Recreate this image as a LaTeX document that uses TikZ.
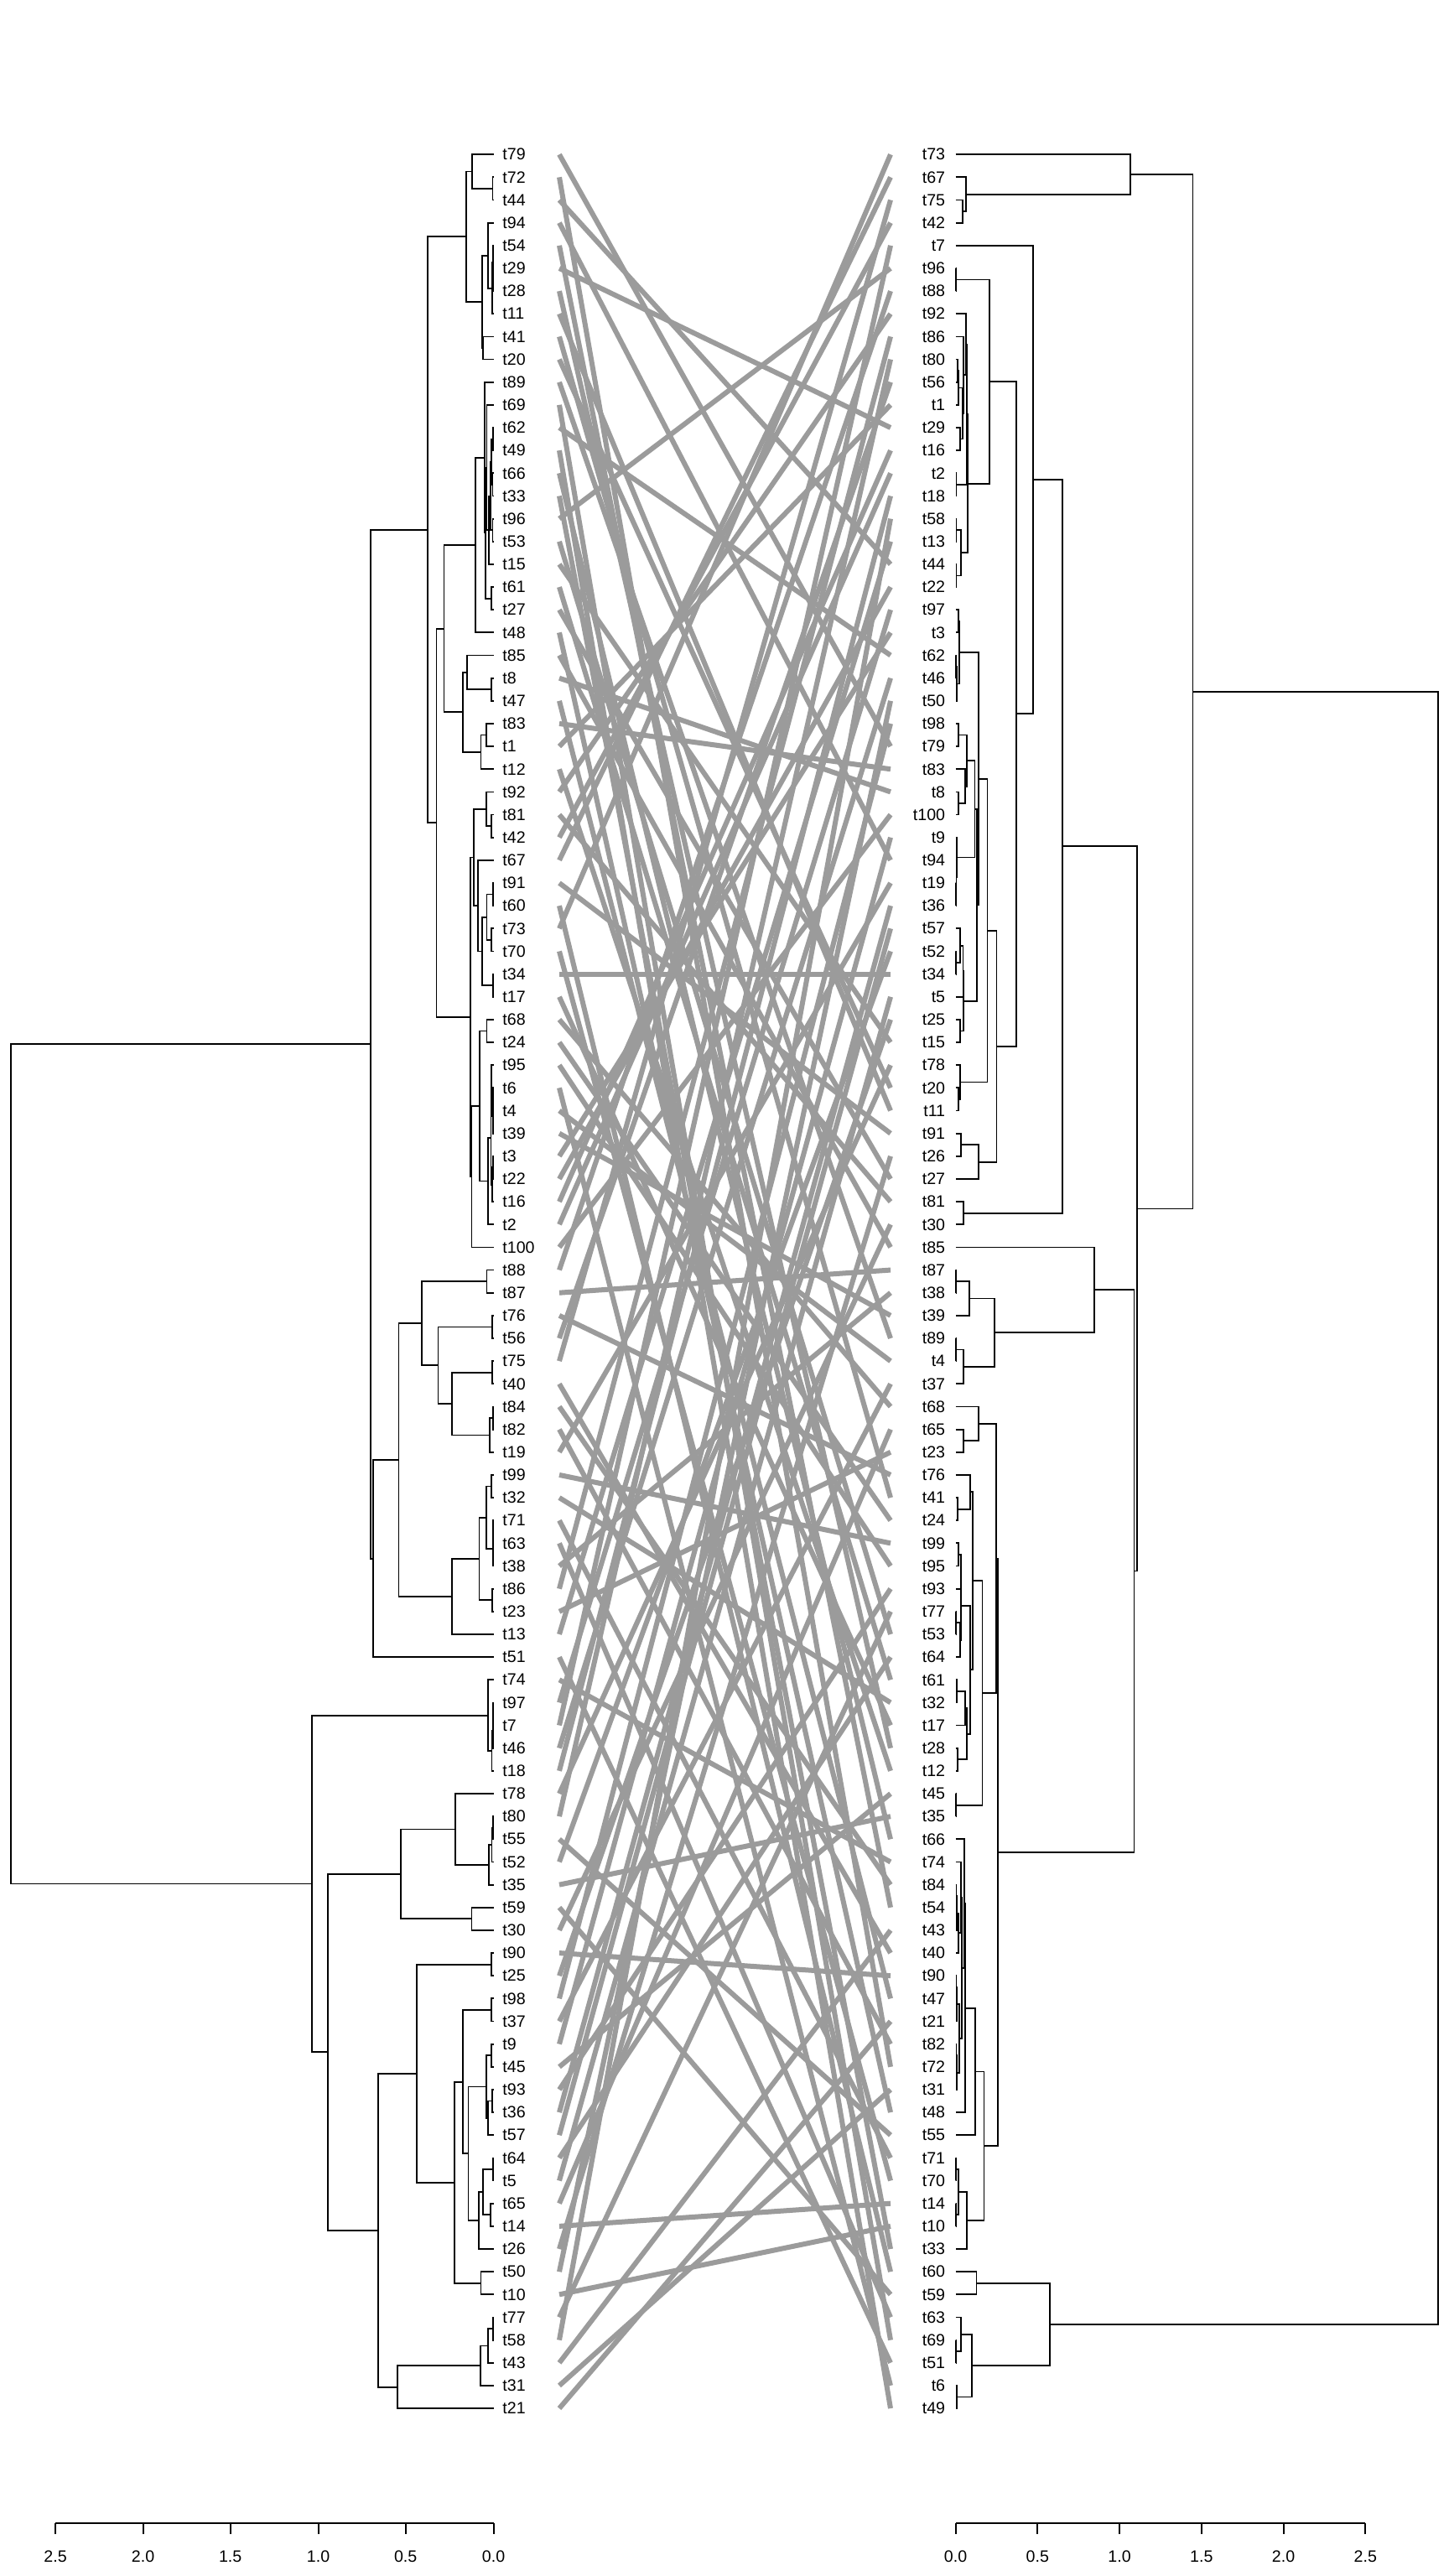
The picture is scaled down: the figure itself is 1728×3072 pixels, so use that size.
\documentclass[tikz,border=0pt]{standalone}
\usepackage{fontspec}
\setmainfont{Liberation Sans}
\usetikzlibrary{calc}
\definecolor{conncol}{RGB}{155,155,155}
\newcommand\mrg[4]{%
  \path let \p1=(#3), \p2=(#4) in coordinate (#1) at ({#2*0.5pt},{0.5*\y1+0.5*\y2});
  \draw[treeln] (#3) -| (#1) |- (#4);
}
\begin{document}
\begin{tikzpicture}[x=0.5pt,y=-0.5pt,
  treeln/.style={line width=0.9pt,line join=miter},
  conn/.style={draw=conncol,line width=3pt},
  lbl/.style={inner sep=0pt,font=\fontsize{9.8}{11}\selectfont},
  axln/.style={line width=0.9pt}]
\useasboundingbox (0,0) rectangle (1728,3072);
\fill[white] (0,0) rectangle (1728,3072);

% ---------- left leaves ----------
\foreach \n [count=\i] in {t79,t72,t44,t94,t54,t29,t28,t11,t41,t20,t89,t69,t62,t49,t66,t33,t96,t53,t15,t61,t27,t48,t85,t8,t47,t83,t1,t12,t92,t81,t42,t67,t91,t60,t73,t70,t34,t17,t68,t24,t95,t6,t4,t39,t3,t22,t16,t2,t100,t88,t87,t76,t56,t75,t40,t84,t82,t19,t99,t32,t71,t63,t38,t86,t23,t13,t51,t74,t97,t7,t46,t18,t78,t80,t55,t52,t35,t59,t30,t90,t25,t98,t37,t9,t45,t93,t36,t57,t64,t5,t65,t14,t26,t50,t10,t77,t58,t43,t31,t21}{
  \pgfmathsetmacro\yy{184.2+(\i-1)*27.15}
  \coordinate (L\i) at (588.6,\yy);
  \coordinate (lc-\n) at (667,\yy);
  \node[lbl,anchor=west] (ln-\n) at (599,\yy) {\n};
}
% ---------- right leaves ----------
\foreach \n [count=\i] in {t73,t67,t75,t42,t7,t96,t88,t92,t86,t80,t56,t1,t29,t16,t2,t18,t58,t13,t44,t22,t97,t3,t62,t46,t50,t98,t79,t83,t8,t100,t9,t94,t19,t36,t57,t52,t34,t5,t25,t15,t78,t20,t11,t91,t26,t27,t81,t30,t85,t87,t38,t39,t89,t4,t37,t68,t65,t23,t76,t41,t24,t99,t95,t93,t77,t53,t64,t61,t32,t17,t28,t12,t45,t35,t66,t74,t84,t54,t43,t40,t90,t47,t21,t82,t72,t31,t48,t55,t71,t70,t14,t10,t33,t60,t59,t63,t69,t51,t6,t49}{
  \pgfmathsetmacro\yy{184.2+(\i-1)*27.15}
  \coordinate (R\i) at (1139.6,\yy);
  \coordinate (rc-\n) at (1062,\yy);
  \node[lbl,anchor=east] (rn-\n) at (1127.5,\yy) {\n};
}

% ---------- connectors ----------
\foreach \k in {1,...,100} \draw[conn] (lc-t\k) -- (rc-t\k);

% ---------- left tree ----------
\mrg{Pa1}{587.5}{L2}{L3}
\mrg{Pa2}{563.3}{L1}{Pa1}
\mrg{Pb1}{588.0}{L6}{L7}
\mrg{Pb2}{587.8}{L5}{Pb1}
\mrg{Pb3}{587.3}{Pb2}{L8}
\mrg{Pb4}{581.6}{L4}{Pb3}
\mrg{Pb5}{576.3}{L9}{L10}
\mrg{Pb6}{574.7}{Pb4}{Pb5}
\mrg{Pa3}{555.9}{Pa2}{Pb6}
\mrg{Pc1}{587.8}{L13}{L14}
\mrg{Pc2}{587.5}{L15}{L16}
\mrg{Pc3}{587.5}{L17}{L18}
\mrg{Pc4}{586.0}{Pc1}{Pc2}
\mrg{Pc5}{585.0}{Pc4}{Pc3}
\mrg{Pc6}{583.0}{Pc5}{L19}
\mrg{Pc7}{580.4}{L12}{Pc6}
\mrg{Pc8}{586.1}{L20}{L21}
\mrg{Pc9}{579.0}{Pc7}{Pc8}
\mrg{Pc10}{577.6}{L11}{Pc9}
\mrg{Pc11}{567.3}{Pc10}{L22}
\mrg{Pd1}{586.1}{L24}{L25}
\mrg{Pd2}{557.1}{L23}{Pd1}
\mrg{Pd3}{579.6}{L26}{L27}
\mrg{Pd4}{573.5}{Pd3}{L28}
\mrg{Pd5}{552.2}{Pd2}{Pd4}
\mrg{Pg1}{529.4}{Pc11}{Pd5}
\mrg{Pe1}{586.1}{L30}{L31}
\mrg{Pe2}{579.6}{L29}{Pe1}
\mrg{Pe3}{587.8}{L33}{L34}
\mrg{Pe4}{586.1}{L35}{L36}
\mrg{Pe5}{580.4}{Pe3}{Pe4}
\mrg{Pe6}{587.8}{L37}{L38}
\mrg{Pe7}{574.7}{Pe5}{Pe6}
\mrg{Pe8}{570.2}{L32}{Pe7}
\mrg{Pe9}{565.3}{Pe2}{Pe8}
\mrg{Ph1}{588.0}{L42}{L43}
\mrg{Ph2}{587.8}{Ph1}{L44}
\mrg{Ph3}{586.1}{L41}{Ph2}
\mrg{Ph4}{587.6}{L45}{L46}
\mrg{Ph5}{586.9}{Ph4}{L47}
\mrg{Ph6}{585.5}{Ph3}{Ph5}
\mrg{Ph7}{581.6}{Ph6}{L48}
\mrg{Ph8}{580.4}{L39}{L40}
\mrg{Ph9}{572.2}{Ph8}{Ph7}
\mrg{Ph10}{562.4}{Ph9}{L49}
\mrg{Ph11}{561.2}{Pe9}{Ph10}
\mrg{Pg2}{520.4}{Pg1}{Ph11}
\mrg{Pg3}{510.2}{Pa3}{Pg2}
\mrg{Pi1}{580.4}{L50}{L51}
\mrg{Pi2}{587.0}{L52}{L53}
\mrg{Pi3}{587.0}{L54}{L55}
\mrg{Pi4}{587.8}{L56}{L57}
\mrg{Pi5}{583.7}{Pi4}{L58}
\mrg{Pi6}{538.8}{Pi3}{Pi5}
\mrg{Pi7}{522.4}{Pi2}{Pi6}
\mrg{Pi8}{502.9}{Pi1}{Pi7}
\mrg{Pi9}{586.1}{L59}{L60}
\mrg{Pi10}{588.0}{L61}{L62}
\mrg{Pi11}{587.8}{Pi10}{L63}
\mrg{Pi12}{579.6}{Pi9}{Pi11}
\mrg{Pi13}{587.0}{L64}{L65}
\mrg{Pi14}{571.4}{Pi12}{Pi13}
\mrg{Pi15}{538.8}{Pi14}{L66}
\mrg{Pi16}{475.5}{Pi8}{Pi15}
\mrg{Pg4}{444.9}{Pi16}{L67}
\mrg{Pg5}{442.0}{Pg3}{Pg4}
\mrg{Pj1}{588.0}{L69}{L70}
\mrg{Pj2}{587.8}{Pj1}{L71}
\mrg{Pj3}{586.5}{Pj2}{L72}
\mrg{Pj4}{581.6}{L68}{Pj3}
\mrg{Pk1}{587.8}{L74}{L75}
\mrg{Pk2}{586.5}{Pk1}{L76}
\mrg{Pk3}{582.9}{Pk2}{L77}
\mrg{Pk4}{542.9}{L73}{Pk3}
\mrg{Pk5}{562.4}{L78}{L79}
\mrg{Pk6}{477.6}{Pk4}{Pk5}
\mrg{Pl1}{586.1}{L80}{L81}
\mrg{Pl2}{586.1}{L82}{L83}
\mrg{Pl3}{586.1}{L84}{L85}
\mrg{Pl4}{587.0}{L86}{L87}
\mrg{Pl5}{581.6}{Pl4}{L88}
\mrg{Pl6}{579.6}{Pl3}{Pl5}
\mrg{Pl7}{587.8}{L89}{L90}
\mrg{Pl8}{585.3}{L91}{L92}
\mrg{Pl9}{576.3}{Pl7}{Pl8}
\mrg{Pl10}{570.6}{Pl9}{L93}
\mrg{Pl11}{558.4}{Pl6}{Pl10}
\mrg{Pl12}{551.8}{Pl2}{Pl11}
\mrg{Pl13}{573.5}{L94}{L95}
\mrg{Pl14}{541.6}{Pl12}{Pl13}
\mrg{Pl15}{497.1}{Pl1}{Pl14}
\mrg{Pm1}{587.8}{L96}{L97}
\mrg{Pm2}{581.6}{Pm1}{L98}
\mrg{Pm3}{572.7}{Pm2}{L99}
\mrg{Pm4}{474.3}{Pm3}{L100}
\mrg{Pl16}{451.0}{Pl15}{Pm4}
\mrg{Pg6}{391.0}{Pk6}{Pl16}
\mrg{Pg7}{372.2}{Pj4}{Pg6}
\mrg{Proot}{13.1}{Pg5}{Pg7}

% ---------- right tree ----------
\mrg{Qn1}{1148.2}{R3}{R4}
\mrg{Qn2}{1151.8}{R2}{Qn1}
\mrg{Qn3}{1347.6}{R1}{Qn2}
\mrg{Qo1}{1140.0}{R6}{R7}
\mrg{Qp1}{1141.7}{R10}{R11}
\mrg{Qp2}{1142.9}{Qp1}{R12}
\mrg{Qp3}{1145.0}{R13}{R14}
\mrg{Qp4}{1148.2}{Qp2}{Qp3}
\mrg{Qp5}{1149.0}{R9}{Qp4}
\mrg{Qp6}{1152.3}{R8}{Qp5}
\mrg{Qp7}{1140.5}{R15}{R16}
\mrg{Qp8}{1153.0}{Qp6}{Qp7}
\mrg{Qq1}{1140.5}{R17}{R18}
\mrg{Qq2}{1140.5}{R19}{R20}
\mrg{Qq3}{1145.7}{Qq1}{Qq2}
\mrg{Qq4}{1154.3}{Qp8}{Qq3}
\mrg{Qo2}{1180.3}{Qo1}{Qq4}
\mrg{Qs1}{1142.9}{R21}{R22}
\mrg{Qs2}{1140.0}{R23}{R24}
\mrg{Qs3}{1140.9}{Qs2}{R25}
\mrg{Qs4}{1143.7}{Qs1}{Qs3}
\mrg{Qt1}{1142.9}{R26}{R27}
\mrg{Qt2}{1142.9}{R29}{R30}
\mrg{Qt3}{1151.0}{R28}{Qt2}
\mrg{Qt4}{1153.1}{Qt1}{Qt3}
\mrg{Qu1}{1140.0}{R33}{R34}
\mrg{Qu2}{1140.5}{R32}{Qu1}
\mrg{Qu3}{1140.9}{R31}{Qu2}
\mrg{Qu4}{1162.4}{Qt4}{Qu3}
\mrg{Qv1}{1140.0}{R36}{R37}
\mrg{Qv2}{1144.9}{R35}{Qv1}
\mrg{Qv3}{1148.5}{Qv2}{R38}
\mrg{Qv4}{1144.9}{R39}{R40}
\mrg{Qv5}{1149.2}{Qv3}{Qv4}
\mrg{Qw1}{1165.3}{Qu4}{Qv5}
\mrg{Qw2}{1167.3}{Qs4}{Qw1}
\mrg{Qx1}{1142.9}{R42}{R43}
\mrg{Qx2}{1144.9}{R41}{Qx1}
\mrg{Qw3}{1177.5}{Qw2}{Qx2}
\mrg{Qx3}{1145.7}{R44}{R45}
\mrg{Qx4}{1167.3}{Qx3}{R46}
\mrg{Qw4}{1188.5}{Qw3}{Qx4}
\mrg{Qw5}{1212.1}{Qo2}{Qw4}
\mrg{Qw6}{1232.0}{R5}{Qw5}
\mrg{Qx5}{1149.0}{R47}{R48}
\mrg{Qw7}{1267.0}{Qw6}{Qx5}
\mrg{Qy1}{1140.0}{R50}{R51}
\mrg{Qy2}{1156.3}{Qy1}{R52}
\mrg{Qy3}{1140.0}{R53}{R54}
\mrg{Qy4}{1149.0}{Qy3}{R55}
\mrg{Qy5}{1185.6}{Qy2}{Qy4}
\mrg{Qy6}{1304.8}{R49}{Qy5}
\mrg{Qz1}{1149.0}{R57}{R58}
\mrg{Qz2}{1167.3}{R56}{Qz1}
\mrg{Qz3}{1142.1}{R60}{R61}
\mrg{Qz4}{1157.1}{R59}{Qz3}
\mrg{Qz5}{1142.9}{R62}{R63}
\mrg{Qz6}{1145.7}{Qz5}{R64}
\mrg{Qz7}{1140.0}{R65}{R66}
\mrg{Qz8}{1144.9}{Qz7}{R67}
\mrg{Qz9}{1146.1}{Qz6}{Qz8}
\mrg{Qz10}{1140.9}{R68}{R69}
\mrg{Qz11}{1151.0}{Qz10}{R70}
\mrg{Qz12}{1142.1}{R71}{R72}
\mrg{Qz13}{1153.1}{Qz11}{Qz12}
\mrg{Qz14}{1157.1}{Qz9}{Qz13}
\mrg{Qz15}{1160.0}{Qz4}{Qz14}
\mrg{Qz16}{1140.0}{R73}{R74}
\mrg{Qz17}{1171.4}{Qz15}{Qz16}
\mrg{Qz18}{1187.7}{Qz2}{Qz17}
\mrg{Qf1}{1140.5}{R77}{R78}
\mrg{Qf2}{1141.0}{Qf1}{R79}
\mrg{Qf3}{1142.9}{Qf2}{R80}
\mrg{Qf4}{1145.7}{R76}{Qf3}
\mrg{Qf5}{1140.5}{R81}{R82}
\mrg{Qf6}{1141.0}{Qf5}{R83}
\mrg{Qf7}{1140.5}{R84}{R85}
\mrg{Qf8}{1141.0}{Qf7}{R86}
\mrg{Qf9}{1144.1}{Qf6}{Qf8}
\mrg{Qf10}{1147.0}{Qf4}{Qf9}
\mrg{Qf11}{1150.2}{R75}{Qf10}
\mrg{Qf12}{1151.0}{Qf11}{R87}
\mrg{Qf13}{1163.2}{Qf12}{R88}
\mrg{Qf14}{1140.0}{R89}{R90}
\mrg{Qf15}{1140.0}{R91}{R92}
\mrg{Qf16}{1142.9}{Qf14}{Qf15}
\mrg{Qf17}{1153.1}{Qf16}{R93}
\mrg{Qf18}{1173.4}{Qf13}{Qf17}
\mrg{Qf19}{1189.7}{Qz18}{Qf18}
\mrg{Qf20}{1352.4}{Qy6}{Qf19}
\mrg{Qf21}{1355.7}{Qw7}{Qf20}
\mrg{Qf22}{1422.4}{Qn3}{Qf21}
\mrg{Qb1}{1164.5}{R94}{R95}
\mrg{Qb2}{1140.0}{R97}{R98}
\mrg{Qb3}{1146.1}{R96}{Qb2}
\mrg{Qb4}{1140.9}{R99}{R100}
\mrg{Qb5}{1159.2}{Qb3}{Qb4}
\mrg{Qb6}{1251.9}{Qb1}{Qb5}
\mrg{Qroot}{1714.6}{Qf22}{Qb6}

% ---------- axes ----------
\draw[axln] (66.1,3009) -- (588.6,3009);
\foreach \v/\xx [count=\c] in {2.5/66.1,2.0/170.6,1.5/274.7,1.0/379.6,0.5/483.7,0.0/588.6}{
  \draw[axln] (\xx,3009) -- (\xx,3021.7);
  \node[lbl] (axl\c) at (\xx,3049) {\v};
}
\draw[axln] (1139.6,3009) -- (1628.3,3009);
\foreach \v/\xx [count=\c] in {0.0/1139.6,0.5/1237.3,1.0/1335.1,1.5/1432.8,2.0/1530.6,2.5/1628.3}{
  \draw[axln] (\xx,3009) -- (\xx,3021.7);
  \node[lbl] (axr\c) at (\xx,3049) {\v};
}
\end{tikzpicture}
\end{document}
